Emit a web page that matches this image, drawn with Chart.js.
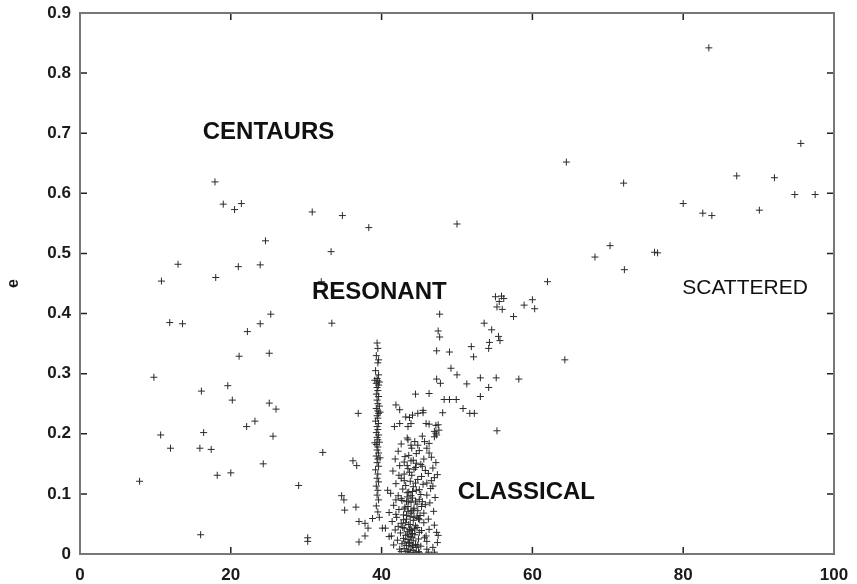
<!DOCTYPE html>
<html>
<head>
<meta charset="utf-8">
<script src="https://cdn.jsdelivr.net/npm/chart.js@4"></script>
<style>
  html, body { margin: 0; background: #fff; }
  #wrap { width: 857px; height: 584px; }
</style>
</head>
<body>
<div id="wrap"><canvas id="chart"></canvas></div>
<script>
// ─── DATA ────────────────────────────────────────────────────────────────────
// [a, e] pairs
const centaurs = [
  [7.9,0.121],[9.8,0.294],[10.7,0.198],[10.8,0.454],[11.9,0.385],[12.0,0.176],[13.0,0.482],
  [13.6,0.383],[15.9,0.176],[16.0,0.032],[16.1,0.271],[16.4,0.202],[17.4,0.174],[17.9,0.619],
  [18.0,0.460],[18.2,0.131],[19.0,0.582],[19.6,0.280],[20.0,0.135],[20.2,0.256],[20.5,0.573],
  [21.0,0.478],[21.1,0.329],[21.4,0.583],[22.1,0.212],[22.2,0.370],[23.2,0.221],[23.9,0.383],
  [23.9,0.481],[24.3,0.150],[24.6,0.521],[25.1,0.334],[25.1,0.251],[25.3,0.399],[25.6,0.196],
  [26.0,0.241],[29.0,0.114],[30.2,0.027],[30.2,0.021],[30.8,0.569],[32.0,0.453],[32.2,0.169],
  [33.3,0.503],[33.4,0.384],[34.8,0.563],[34.7,0.097],[35.0,0.090],[35.1,0.073],[36.2,0.155],
  [36.7,0.147],[36.6,0.078],[36.9,0.234],[37.0,0.020],[37.0,0.054],[37.8,0.051],[38.2,0.043],
  [37.8,0.030],[38.3,0.543]
];

const resonant = [
  [39.4,0.351],[39.5,0.342],[39.3,0.330],[39.6,0.323],[39.5,0.318],[39.2,0.305],[39.6,0.298],
  [39.4,0.292],[39.5,0.288],[39.7,0.286],[39.3,0.284],[39.6,0.281],[39.4,0.277],[39.5,0.272],
  [39.3,0.266],[39.6,0.262],[39.4,0.256],[39.5,0.250],[39.7,0.246],[39.3,0.242],[39.5,0.238],
  [39.6,0.234],[39.4,0.230],[39.5,0.226],[39.2,0.221],[39.6,0.217],[39.4,0.212],[39.5,0.207],
  [39.3,0.202],[39.6,0.198],[39.4,0.194],[39.5,0.190],[39.7,0.186],[39.3,0.182],[39.5,0.178],
  [39.4,0.173],[39.6,0.168],[39.3,0.163],[39.5,0.158],[39.4,0.152],[39.6,0.146],[39.2,0.140],
  [39.5,0.133],[39.4,0.126],[39.6,0.120],[39.3,0.113],[39.5,0.106],[39.4,0.098],[39.6,0.090],
  [39.3,0.080],[39.5,0.070],[38.8,0.059],[39.7,0.061],[40.1,0.043],[40.5,0.043],[41.0,0.029],
  [40.8,0.106],[41.9,0.090],[39.1,0.289],[39.8,0.236],[39.1,0.185],[39.8,0.160]
];

const classical = [
  [41.9,0.248],[42.4,0.240],[43.2,0.228],[43.7,0.227],[44.1,0.231],[44.8,0.234],[45.5,0.239],
  [44.5,0.266],[41.7,0.212],[42.4,0.217],[43.5,0.212],[43.9,0.217],[45.9,0.217],[47.2,0.214],
  [47.6,0.206],[47.2,0.201],[47.0,0.195],[43.5,0.190],[43.9,0.181],[44.8,0.181],[45.7,0.187],
  [46.3,0.184],
  [43.4,0.193],[44.4,0.187],[45.4,0.196],[46.0,0.176],
  [42.6,0.183],[44.0,0.176],[45.0,0.172],[46.3,0.168],
  [42.2,0.171],[43.6,0.164],[44.6,0.167],[45.6,0.158],
  [41.8,0.158],[43.0,0.153],[44.2,0.156],[45.2,0.149],[46.6,0.161],[47.2,0.152],
  [42.4,0.147],[43.5,0.142],[44.5,0.144],[45.8,0.139],[46.8,0.143],
  [41.5,0.138],[43.0,0.133],[44.0,0.131],[45.3,0.129],[46.2,0.134],[47.0,0.127],
  [42.6,0.126],[43.8,0.121],[44.8,0.124],[46.0,0.118],[47.4,0.132],
  [41.9,0.117],[43.2,0.114],[44.2,0.112],[45.5,0.116],[46.5,0.109],
  [42.8,0.108],[43.6,0.103],[44.6,0.106],[45.2,0.099],[46.8,0.113],
  [41.2,0.101],[42.2,0.097],[43.4,0.095],[44.1,0.093],[45.0,0.091],[46.0,0.098],
  [42.7,0.089],[43.9,0.086],[44.7,0.083],[45.4,0.087],[47.1,0.094],
  [41.6,0.081],[43.1,0.078],[44.3,0.076],[45.8,0.082],
  [42.3,0.074],[43.5,0.071],[44.0,0.068],[44.8,0.072],[46.4,0.085],
  [41.0,0.069],[42.9,0.065],[43.8,0.062],[45.1,0.064],[46.9,0.071],
  [42.0,0.061],[43.3,0.058],[44.2,0.056],[44.9,0.059],[45.6,0.052],
  [41.4,0.054],[42.6,0.051],[43.6,0.049],[44.5,0.047],[46.2,0.058],
  [42.2,0.046],[43.0,0.043],[43.9,0.041],[44.7,0.044],[45.3,0.039],[47.0,0.048],
  [41.8,0.040],[43.4,0.037],[44.1,0.034],[45.0,0.036],
  [42.5,0.035],[43.2,0.031],[43.8,0.029],[44.4,0.032],[45.7,0.027],
  [41.3,0.030],[42.9,0.026],[43.5,0.024],[44.2,0.022],[44.9,0.025],
  [42.1,0.023],[43.1,0.020],[43.7,0.018],[44.5,0.016],[46.0,0.021],
  [42.7,0.017],[43.3,0.014],[43.9,0.012],[44.6,0.011],
  [41.6,0.015],[43.0,0.009],[43.6,0.007],[44.2,0.006],[45.2,0.013],
  [42.4,0.008],[43.4,0.004],[43.8,0.003],[44.4,0.002],
  [42.8,0.044],[43.2,0.052],[44.0,0.039],[44.7,0.063],[46.3,0.041],[47.3,0.036],
  [41.9,0.066],[43.5,0.079],[43.9,0.097],[45.0,0.107],
  [42.6,0.092],[43.3,0.087],[44.1,0.104],[44.5,0.118],[47.5,0.031],
  [43.0,0.122],[43.7,0.136],[44.3,0.141],[45.4,0.146],
  [42.3,0.131],[43.4,0.147],[43.9,0.155],[44.6,0.151],[46.6,0.122],
  [43.1,0.162],[43.6,0.088],[44.2,0.073],[45.0,0.057],[47.4,0.019],
  [42.9,0.057],[43.5,0.033],[44.0,0.027],[44.8,0.015],[46.0,0.008],
  [43.3,0.064],[43.8,0.049],[44.4,0.042],[45.6,0.068],
  [43.0,0.075],[43.6,0.019],[44.1,0.014],[44.9,0.004],[46.8,0.011],[45.9,0.030],
  [43.4,0.102],[43.9,0.072],[44.5,0.088],[45.3,0.079],[46.2,0.003],
  [43.2,0.001],[43.7,0.041],[44.3,0.061],[45.0,0.002],[42.6,0.004],[47.0,0.003]
];

const scattered = [
  [46.3,0.267],[47.7,0.399],[47.5,0.371],[47.7,0.361],[47.3,0.338],[49.0,0.336],[49.2,0.309],
  [50.0,0.298],[47.3,0.291],[47.8,0.284],[51.3,0.283],[53.1,0.293],[55.2,0.293],[58.2,0.291],
  [54.2,0.277],[48.3,0.257],[49.0,0.257],[49.9,0.257],[53.1,0.262],[50.8,0.242],[51.7,0.234],
  [52.3,0.234],[45.5,0.235],[48.1,0.235],[55.3,0.205],[46.3,0.216],[47.5,0.215],[47.0,0.204],
  [47.3,0.198],[51.9,0.345],[52.2,0.328],[53.6,0.384],[54.6,0.373],[55.5,0.362],[55.7,0.355],
  [54.3,0.352],[54.2,0.342],[55.1,0.428],[55.9,0.429],[56.2,0.425],[55.6,0.420],[55.3,0.411],
  [56.0,0.407],[57.5,0.395],[58.9,0.414],[60.0,0.423],[60.3,0.408],[62.0,0.453],[64.3,0.323],
  [50.0,0.549],[64.5,0.652],[68.3,0.494],[70.3,0.513],[72.1,0.617],[72.2,0.473],[76.2,0.502],
  [76.6,0.501],[80.0,0.583],[82.6,0.567],[83.8,0.563],[83.4,0.842],[87.1,0.629],[90.1,0.572],
  [92.1,0.626],[94.8,0.598],[95.6,0.683],[97.5,0.598]
];

const xTicks = [0, 20, 40, 60, 80, 100];
const eTicks = [0, 0.1, 0.2, 0.3, 0.4, 0.5, 0.6, 0.7, 0.8, 0.9];

const regionNames = ['CENTAURS', 'RESONANT', 'CLASSICAL', 'SCATTERED'];
const regionA     = [25.0, 39.7, 59.2, 88.2];
const regionE     = [0.702, 0.436, 0.103, 0.443];

// ─── HELPERS ─────────────────────────────────────────────────────────────────
const FONT = "'Liberation Sans', Arial, sans-serif";
const toXY = arr => arr.map(([a, e]) => ({ x: a, y: e }));

// frame with inward ticks on all four sides (gnuplot look)
const framePlugin = {
  id: 'frame',
  afterDraw(chart) {
    const { ctx, chartArea: ca, scales: { x, y } } = chart;
    ctx.save();
    ctx.strokeStyle = '#222';
    ctx.lineWidth = 1.5;
    ctx.beginPath();
    xTicks.forEach(v => {
      const px = x.getPixelForValue(v);
      ctx.moveTo(px, ca.bottom); ctx.lineTo(px, ca.bottom - 7);
      ctx.moveTo(px, ca.top);    ctx.lineTo(px, ca.top + 7);
    });
    eTicks.forEach(v => {
      const py = y.getPixelForValue(v);
      ctx.moveTo(ca.left, py);  ctx.lineTo(ca.left + 7, py);
      ctx.moveTo(ca.right, py); ctx.lineTo(ca.right - 7, py);
    });
    ctx.stroke();
    ctx.strokeStyle = '#777';
    ctx.lineWidth = 2;
    ctx.strokeRect(ca.left, ca.top, ca.right - ca.left, ca.bottom - ca.top);
    ctx.restore();
  }
};

const labelPlugin = {
  id: 'regions',
  afterDatasetsDraw(chart) {
    const { ctx, scales: { x, y } } = chart;
    ctx.save();
    ctx.fillStyle = '#111';
    ctx.textAlign = 'center';
    ctx.textBaseline = 'middle';
    regionNames.forEach((name, i) => {
      const bold = name !== 'SCATTERED';
      ctx.font = bold ? `bold 24px ${FONT}` : `21px ${FONT}`;
      ctx.fillText(name, x.getPixelForValue(regionA[i]), y.getPixelForValue(regionE[i]));
    });
    ctx.restore();
  }
};

// ─── CHART ───────────────────────────────────────────────────────────────────
const pointStyle = {
  showLine: false,
  pointStyle: 'cross',
  pointRadius: 3.5,
  pointBorderWidth: 1,
  pointBorderColor: '#2a2a2a',
  pointBackgroundColor: '#2a2a2a',
};

new Chart(document.getElementById('chart'), {
  type: 'scatter',
  data: {
    datasets: [
      { label: 'centaurs',  data: toXY(centaurs),  ...pointStyle },
      { label: 'resonant',  data: toXY(resonant),  ...pointStyle },
      { label: 'classical', data: toXY(classical), ...pointStyle },
      { label: 'scattered', data: toXY(scattered), ...pointStyle },
    ]
  },
  options: {
    responsive: true, maintainAspectRatio: false,
    animation: false,
    layout: { padding: { left: 0, right: 23, top: 13, bottom: 0 } },
    plugins: { legend: { display: false }, tooltip: { enabled: false } },
    scales: {
      x: {
        type: 'linear', min: 0, max: 100,
        grid: { display: false }, border: { display: false },
        ticks: { stepSize: 20, padding: 3, color: '#1a1a1a', font: { family: FONT, size: 17, weight: 'bold' } },
        afterFit: s => { s.height = 30; }
      },
      y: {
        type: 'linear', min: 0, max: 0.9,
        grid: { display: false }, border: { display: false },
        ticks: {
          stepSize: 0.1, padding: 1, color: '#1a1a1a',
          font: { family: FONT, size: 17, weight: 'bold' },
          callback: v => String(+v.toFixed(1))
        },
        title: { display: true, text: 'e', color: '#1a1a1a', font: { family: FONT, size: 16, weight: 'bold' } },
        afterFit: s => { s.width = 80; }
      }
    }
  },
  plugins: [framePlugin, labelPlugin]
});
</script>
</body>
</html>
